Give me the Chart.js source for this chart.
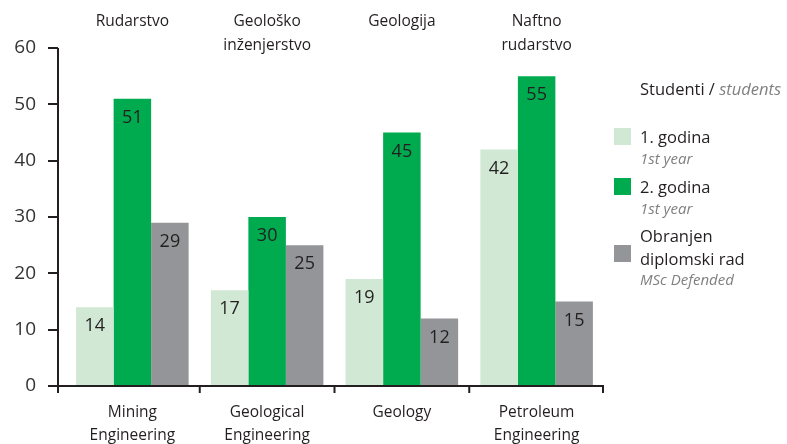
<!DOCTYPE html>
<html>
<head>
<meta charset="utf-8">
<script src="https://cdn.jsdelivr.net/npm/chart.js@4"></script>
<style>
  body { margin: 0; background: #fff; }
  #wrap { position: relative; width: 787px; height: 444px; }
</style>
</head>
<body>
<div id="wrap"><canvas id="barChart" width="787" height="444"></canvas></div>
<script>
// categories (bottom English, top Croatian)
const categories = [['Mining', 'Engineering'], ['Geological', 'Engineering'], ['Geology'], ['Petroleum', 'Engineering']];
const topLabels = [['Rudarstvo'], ['Geološko', 'inženjerstvo'], ['Geologija'], ['Naftno', 'rudarstvo']];

// series values
const firstYear = [14, 17, 19, 42];
const secondYear = [51, 30, 45, 55];
const defended = [29, 25, 12, 15];

const seriesNames = ['1. godina', '2. godina', ['Obranjen', 'diplomski rad']];
const seriesSubNames = ['1st year', '1st year', 'MSc Defended'];
const legendTitle = ['Studenti / ', 'students'];

// y ticks
const yMin = 0, yMax = 60, yStep = 10;

const FONT = "'Open Sans', 'Noto Sans', sans-serif";
const INK = '#231f20';

const axesPlugin = {
  id: 'axesPlugin',
  afterDraw(chart) {
    const ctx = chart.ctx;
    const area = chart.chartArea;
    const x = chart.scales.x, y = chart.scales.y;
    const ax = area.left - 7;
    ctx.save();
    ctx.strokeStyle = INK;
    ctx.lineWidth = 2;
    ctx.beginPath();
    // y axis line
    ctx.moveTo(ax, area.top);
    ctx.lineTo(ax, area.bottom + 7);
    // y ticks
    y.ticks.forEach(t => {
      const py = Math.round(y.getPixelForValue(t.value));
      ctx.moveTo(ax - 10, py);
      ctx.lineTo(ax, py);
    });
    // x axis line
    ctx.moveTo(ax - 6, area.bottom);
    ctx.lineTo(area.right, area.bottom);
    // category boundary ticks
    for (let i = 0; i < categories.length; i++) {
      const px = i < categories.length - 1
        ? (x.getPixelForTick(i) + x.getPixelForTick(i + 1)) / 2
        : area.right - 1;
      ctx.moveTo(px, area.bottom);
      ctx.lineTo(px, area.bottom + 7);
    }
    ctx.stroke();

    // top labels
    ctx.fillStyle = INK;
    ctx.font = '15.5px ' + FONT;
    ctx.textAlign = 'center';
    ctx.textBaseline = 'middle';
    topLabels.forEach((lines, i) => {
      const px = x.getPixelForTick(i);
      lines.forEach((s, j) => ctx.fillText(s, px, 22 + j * 24));
    });

    // value labels
    ctx.font = '18px ' + FONT;
    chart.data.datasets.forEach((ds, di) => {
      chart.getDatasetMeta(di).data.forEach((bar, i) => {
        ctx.fillText(String(ds.data[i]), bar.x, bar.y + 19);
      });
    });

    // legend
    ctx.textAlign = 'left';
    ctx.font = '16.5px ' + FONT;
    ctx.fillStyle = INK;
    ctx.fillText(legendTitle[0], 640, 90);
    const w = ctx.measureText(legendTitle[0]).width;
    ctx.font = 'italic 16.5px ' + FONT;
    ctx.fillStyle = '#808080';
    ctx.fillText(legendTitle[1], 640 + w, 90);

    const rowsY = [138, 188, 237];
    chart.data.datasets.forEach((ds, di) => {
      const ry = rowsY[di];
      const lines = [].concat(seriesNames[di]);
      ctx.fillStyle = ds.backgroundColor;
      const sq = di < 2 ? ry - 2 : ry + 16;
      ctx.fillRect(614, sq - 8, 17, 17);
      ctx.font = '16.5px ' + FONT;
      ctx.fillStyle = INK;
      lines.forEach((s, j) => ctx.fillText(s, 640, ry + j * 23));
      ctx.font = 'italic 15px ' + FONT;
      ctx.fillStyle = '#808080';
      ctx.fillText(seriesSubNames[di], 640, ry + lines.length * 22);
    });
    ctx.restore();
  }
};

new Chart(document.getElementById('barChart'), {
  type: 'bar',
  data: {
    labels: categories,
    datasets: [
      { label: '1. godina', data: firstYear, backgroundColor: '#d0e8d4' },
      { label: '2. godina', data: secondYear, backgroundColor: '#00ab4f' },
      { label: 'Obranjen diplomski rad', data: defended, backgroundColor: '#939598' }
    ]
  },
  options: {
    responsive: false,
    animation: false,
    layout: { padding: { left: 0, right: 183, top: 48, bottom: 0 } },
    datasets: { bar: { categoryPercentage: 0.835, barPercentage: 1 } },
    scales: {
      x: {
        grid: { display: false },
        border: { display: false },
        ticks: {
          color: INK,
          padding: 7,
          maxRotation: 0,
          font: { family: FONT, size: 15.5, lineHeight: 1.5 }
        },
        afterFit(scale) { scale.height = 58; }
      },
      y: {
        min: yMin,
        max: yMax,
        grid: { display: false },
        border: { display: false },
        ticks: {
          stepSize: yStep,
          color: '#333',
          padding: 21,
          font: { family: FONT, size: 19 }
        },
        afterFit(scale) { scale.width = 65; }
      }
    },
    plugins: {
      legend: { display: false },
      tooltip: { enabled: false }
    }
  },
  plugins: [axesPlugin]
});
</script>
</body>
</html>
